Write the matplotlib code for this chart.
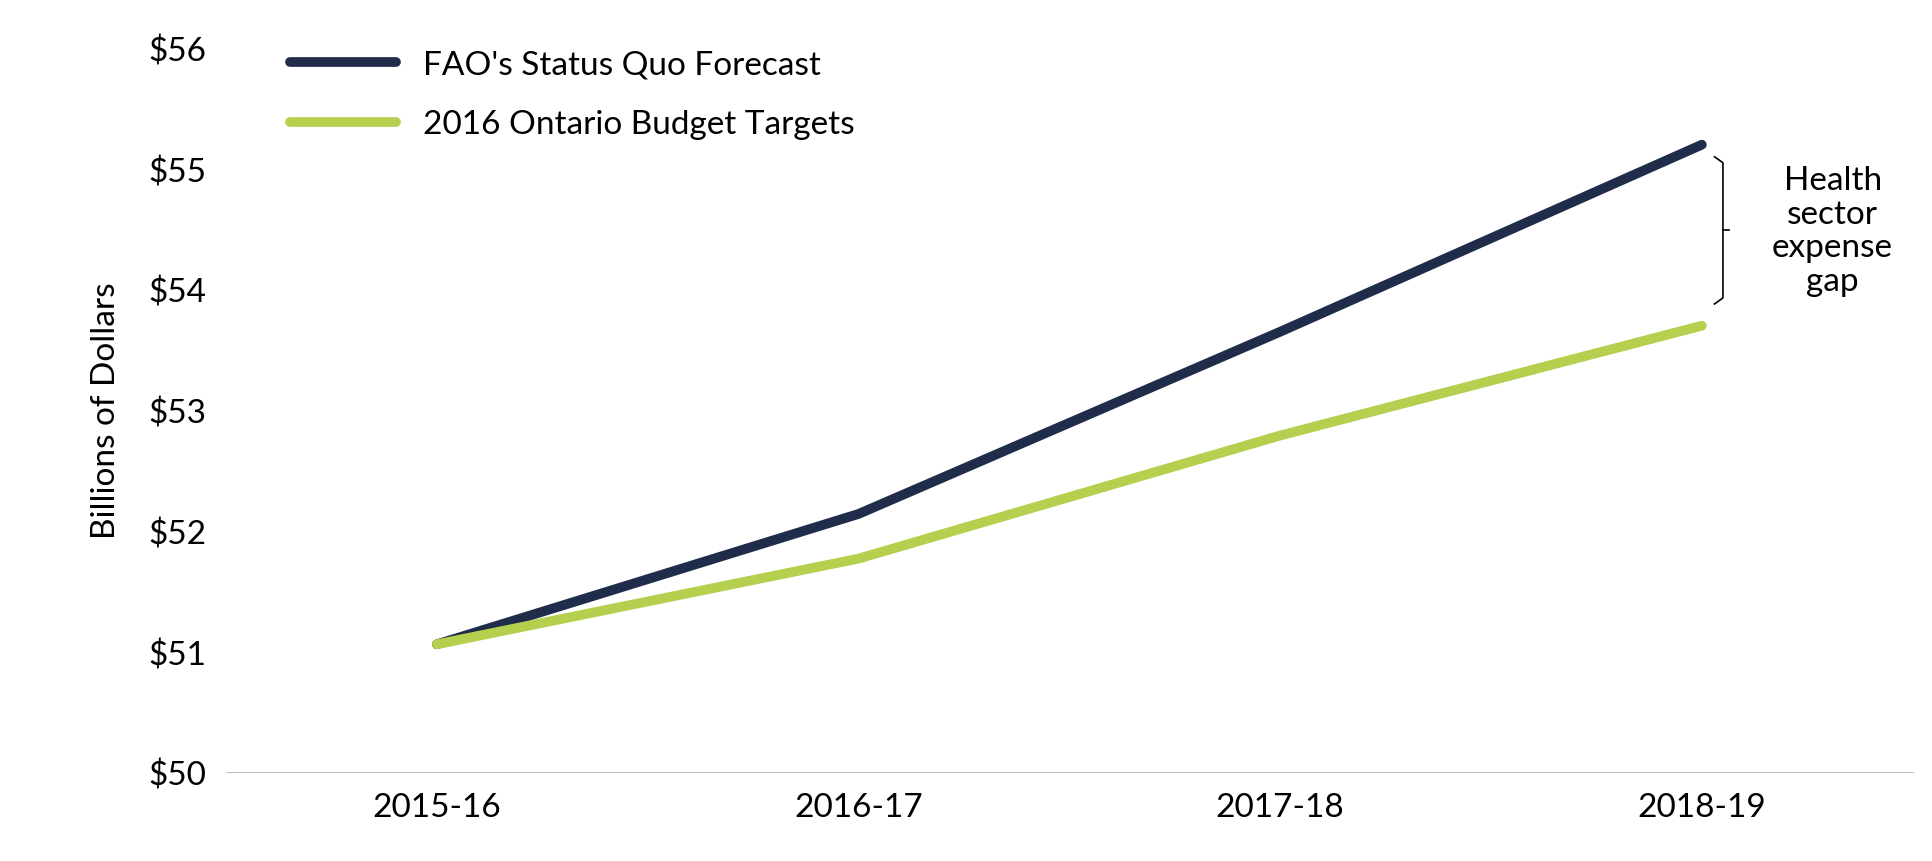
import matplotlib
matplotlib.use("Agg")
import matplotlib.pyplot as plt

years = ["2015-16", "2016-17", "2017-18", "2018-19"]
fao_forecast = [51.06, 52.14, 53.65, 55.20]
budget_targets = [51.06, 51.77, 52.79, 53.70]

plt.rcParams["font.family"] = ["Lato", "DejaVu Sans"]

fig = plt.figure(figsize=(19.32, 8.62), dpi=100)
ax = fig.add_axes([0.117, 0.103, 0.873, 0.84])

x = list(range(len(years)))
ax.plot(x, fao_forecast, color="#1f2d4b", lw=7, label="FAO's Status Quo Forecast",
        solid_capstyle="round")
ax.plot(x, budget_targets, color="#b5cf4f", lw=7, label="2016 Ontario Budget Targets",
        solid_capstyle="round")

ax.set_xlim(-0.5, 3.5)
ax.set_ylim(50, 56)
ax.set_xticks(x)
ax.set_xticklabels(years)
ax.set_yticks(range(50, 57))
ax.set_yticklabels([f"${v}" for v in range(50, 57)])
ax.tick_params(labelsize=24, length=0, pad=14)
ax.set_ylabel("Billions of Dollars", fontsize=24, labelpad=20)
for s in ["top", "right", "left"]:
    ax.spines[s].set_visible(False)
ax.spines["bottom"].set_color("#bfbfbf")

# bracket for the gap
top = fao_forecast[-1] - 0.1
bot = budget_targets[-1] + 0.18
bx = 3.03
ax.plot([bx, bx + 0.02, bx + 0.02, bx], [top, top - 0.05, bot + 0.05, bot], color="black", lw=1.2)
mid = (top + bot) / 2
ax.plot([bx + 0.02, bx + 0.035], [mid, mid], color="black", lw=1.2)
ax.text(3.31, mid, "Health\nsector\nexpense\ngap", ha="center", va="center",
        fontsize=24, linespacing=1.15)

ax.legend(loc="upper left", bbox_to_anchor=(0.02, 1.04), frameon=False, fontsize=24,
          handlelength=3.2, labelspacing=0.9)

fig.savefig("out.png", dpi=100)
